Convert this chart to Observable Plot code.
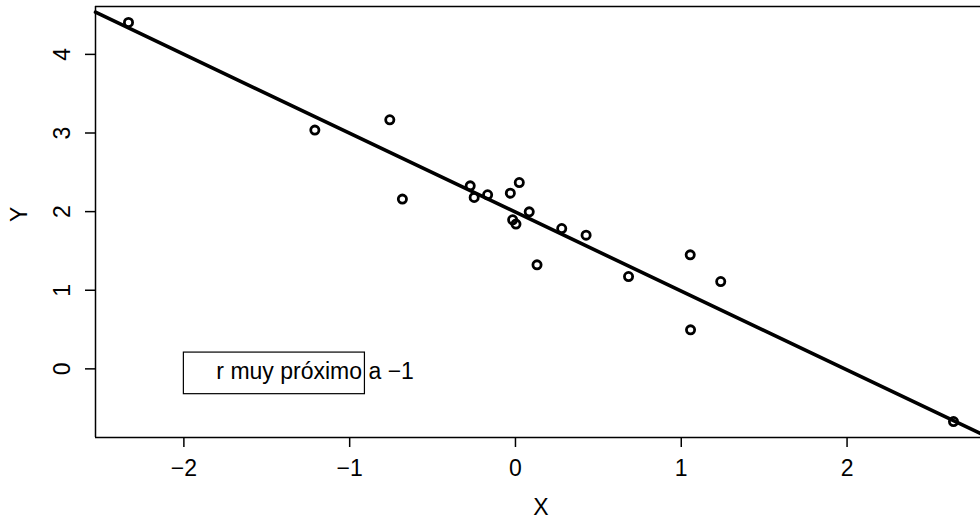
<!DOCTYPE html>
<html><head><meta charset="utf-8">
<script src="https://cdn.jsdelivr.net/npm/d3@7"></script>
<script src="https://cdn.jsdelivr.net/npm/@observablehq/plot@0.6"></script>
<style>html,body{margin:0;padding:0;background:#fff;overflow:hidden}</style>
</head><body><div id="chart"></div>
<script>
// Data
const xValues = [-2.334, -1.210, -0.758, -0.682, -0.273, -0.249, -0.168, -0.031, 0.023, 0.083,
                 -0.017, 0.003, 0.279, 0.426, 0.130, 0.682, 1.054, 1.238, 1.056, 2.642];
const yValues = [4.406, 3.037, 3.168, 2.159, 2.328, 2.180, 2.214, 2.235, 2.370, 1.997,
                 1.896, 1.841, 1.785, 1.701, 1.323, 1.174, 1.450, 1.111, 0.496, -0.670];
const xTicks = [-2, -1, 0, 1, 2];
const yTicks = [0, 1, 2, 3, 4];
const xTitle = ["X"];
const yTitle = ["Y"];
// fitted line (abline)
const fitIntercept = [1.993];
const fitSlope = [-1.004];
const legendLabel = ["r muy próximo a −1"];
const legendBox = [{x1: -2.0, x2: -0.908, y1: -0.322, y2: 0.207}];
const legendTextPos = [{x: -1.804, y: -0.04}];

// R-style 4% domain extension
const ext = (vals) => { const [a, b] = d3.extent(vals); const d = (b - a) * 0.04; return [a - d, b + d]; };
const xDomain = ext(xValues);
const yDomain = ext(yValues);

const points = xValues.map((x, i) => ({x, y: yValues[i]}));
const fitLine = xDomain.map(x => ({x, y: fitIntercept[0] + fitSlope[0] * x}));
const fmt = d3.format("d");

const chart = Plot.plot({
  width: 980,
  height: 522,
  marginLeft: 95,
  marginRight: 0,
  marginTop: 6,
  marginBottom: 85,
  style: {fontFamily: "'Liberation Sans', Arial, Helvetica, sans-serif", fontSize: "23px", background: "#fff", color: "#000"},
  x: {domain: xDomain, range: [95, 986]},
  y: {domain: yDomain},
  marks: [
    Plot.axisX({ticks: xTicks, tickSize: 10, tickPadding: 12, tickFormat: fmt, label: null, stroke: "#000", strokeWidth: 1.5, fontSize: 23}),
    Plot.axisY({ticks: yTicks, tickSize: 10, tickFormat: () => "", label: null, stroke: "#000", strokeWidth: 1.5}),
    Plot.text(yTicks, {y: d => d, text: d => fmt(d), frameAnchor: "left", dx: -33, rotate: -90, textAnchor: "middle", lineAnchor: "middle", fill: "#000", fontSize: 23}),
    Plot.text(yTitle, {text: d => d, frameAnchor: "left", dx: -76, rotate: -90, fill: "#000", fontSize: 23}),
    Plot.text(xTitle, {text: d => d, frameAnchor: "bottom", dx: 3, dy: 77, fill: "#000", fontSize: 23}),
    Plot.ruleY([yDomain[0], yDomain[1]], {stroke: "#000", strokeWidth: 1.5}),
    Plot.ruleX([xDomain[0]], {stroke: "#000", strokeWidth: 1.5}),
    Plot.line(fitLine, {x: "x", y: "y", stroke: "#000", strokeWidth: 3.6}),
    Plot.dot(points, {x: "x", y: "y", r: 4.1, stroke: "#000", strokeWidth: 2.8, fill: "none"}),
    Plot.rect(legendBox, {x1: "x1", x2: "x2", y1: "y1", y2: "y2", stroke: "#000", strokeWidth: 1.2, fill: "none"}),
    Plot.text(legendTextPos, {x: "x", y: "y", text: (d, i) => legendLabel[i], textAnchor: "start", lineAnchor: "middle", fill: "#000", fontSize: 23})
  ]
});
document.getElementById("chart").appendChild(chart);
</script>
</body></html>
